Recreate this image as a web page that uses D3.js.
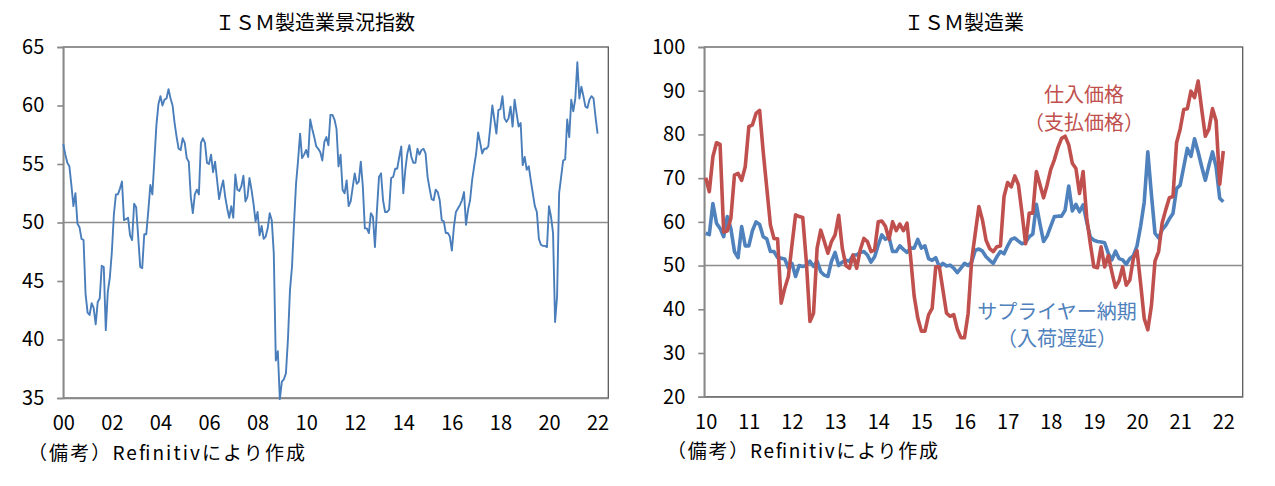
<!DOCTYPE html>
<html>
<head>
<meta charset="utf-8">
<script src="https://cdn.jsdelivr.net/npm/d3@7"></script>
<style>
  body { margin: 0; background: #fff; }
  svg { display: block; }
  text { font-family: "Noto Sans CJK JP", "Noto Sans", sans-serif; fill: #000; }
</style>
</head>
<body>
<div id="chart-area"></div>
<script>
// ISM manufacturing PMI, monthly Jan 2000 - Jan 2022
const ismPmi = [
  56.7, 55.8, 55.1, 54.8, 53.2, 51.4, 52.5, 49.9, 49.6, 48.6, 48.5, 43.9,
  42.3, 42.1, 43.1, 42.7, 41.3, 43.2, 43.5, 46.3, 46.2, 40.8, 44.1, 45.3,
  47.5, 50.7, 52.4, 52.4, 52.9, 53.5, 50.2, 50.3, 50.4, 48.9, 48.5, 51.6,
  51.3, 48.8, 46.2, 46.1, 49.0, 49.0, 51.0, 53.2, 52.4, 55.3, 58.3, 60.1,
  60.8, 60.0, 60.5, 60.6, 61.4, 60.6, 60.0, 58.5, 57.3, 56.3, 56.2, 57.2,
  56.8, 55.5, 55.2, 52.2, 50.8, 52.4, 52.8, 52.4, 56.8, 57.2, 56.8, 55.1,
  55.0, 55.8, 54.3, 55.2, 53.6, 52.0, 52.9, 53.6, 52.2, 51.2, 50.4, 51.4,
  50.4, 54.1, 52.8, 52.7, 53.1, 54.0, 51.8, 52.2, 53.8, 52.8, 51.6, 50.1,
  50.9, 48.9, 49.7, 48.6, 48.8, 49.5, 50.8, 50.2, 47.4, 38.2, 39.0, 34.9,
  36.4, 36.6, 37.1, 40.0, 44.2, 46.2, 49.9, 53.3, 55.3, 57.6, 55.5, 55.8,
  56.2, 55.6, 58.8, 58.0, 57.3, 56.5, 56.3, 56.0, 55.3, 56.9, 57.3, 56.6,
  59.2, 59.2, 58.8, 58.0, 54.8, 55.8, 52.8, 52.5, 53.6, 51.4, 51.8, 53.0,
  54.2, 53.3, 53.5, 55.2, 53.1, 49.5, 49.5, 49.1, 50.8, 50.5, 47.9, 51.1,
  53.9, 54.2, 51.9, 50.9, 50.9, 51.1, 53.8, 53.9, 54.6, 54.6, 55.6, 56.5,
  52.5, 54.5, 55.9, 56.6, 55.6, 55.1, 55.1, 56.3, 55.8, 56.2, 56.3, 55.9,
  53.9, 52.9, 52.0, 51.9, 52.8, 52.6, 51.9, 50.2, 50.1, 49.1, 49.1, 48.8,
  47.6, 49.6, 50.9, 51.2, 51.5, 51.9, 52.6, 49.8, 51.1, 51.9, 53.6, 54.8,
  55.9, 57.7, 56.8, 55.9, 56.3, 56.3, 56.5, 58.2, 60.0, 58.8, 57.6, 59.6,
  59.7, 60.8, 58.9, 58.6, 58.9, 59.9, 58.2, 60.5, 59.3, 58.2, 58.5, 54.9,
  55.6, 54.5, 54.8, 53.6, 52.5, 51.4, 50.9, 48.6, 48.1, 48.0, 48.0, 47.9,
  51.4, 50.5, 49.1, 41.5, 43.7, 52.5, 53.9, 55.3, 55.4, 58.8, 57.3, 60.5,
  59.5, 60.6, 63.7, 60.6, 61.6, 60.8, 59.9, 59.8, 60.5, 60.8, 60.6, 59.0,
  57.6
]

// prices paid and supplier deliveries, monthly Jan 2010 - Jan 2022
const pricesPaid = [
  70.1, 66.9, 74.9, 78.1, 77.7, 57.7, 57.9, 60.8, 70.7, 71.1, 69.5, 72.6,
  81.8, 82.2, 84.8, 85.5, 76.0, 67.7, 59.3, 56.2, 56.1, 41.4, 44.8, 47.5,
  54.7, 61.6, 61.2, 61.0, 50.9, 37.2, 39.1, 54.0, 58.1, 55.5, 52.8, 55.5,
  57.0, 61.5, 54.0, 50.0, 49.4, 52.4, 49.4, 53.6, 56.2, 55.5, 53.2, 53.6,
  60.0, 60.2, 59.0, 56.0, 60.0, 58.0, 59.5, 58.0, 59.7, 52.0, 43.0, 38.0,
  35.0, 35.0, 38.7, 40.2, 49.7, 49.7, 44.4, 39.1, 38.4, 38.8, 35.5, 33.5,
  33.5, 39.0, 51.3, 57.4, 63.5, 60.4, 55.8, 53.9, 53.2, 54.3, 54.5, 65.8,
  69.0, 68.0, 70.5, 68.5, 62.0, 55.0, 62.0, 62.0, 71.5, 68.5, 65.5, 68.5,
  72.0, 74.2, 77.0, 79.1, 79.6, 77.6, 73.4, 72.2, 66.5, 71.5, 61.0, 55.0,
  49.7, 49.5, 54.3, 49.7, 52.3, 48.5, 45.0, 46.5, 49.7, 45.5, 46.7, 51.7,
  53.4, 45.9, 37.9, 35.3, 40.8, 51.0, 53.2, 59.8, 62.8, 65.5, 65.8, 78.1,
  81.2, 85.7, 85.9, 89.9, 88.4, 92.2, 85.7, 79.6, 81.2, 85.9, 83.1, 68.6,
  76.2
]

const supplierDeliveries = [
  57.4, 57.1, 64.2, 59.7, 58.5, 56.6, 61.2, 58.5, 53.2, 51.8, 58.9, 54.5,
  54.5, 58.0, 60.0, 59.4, 56.6, 56.1, 53.2, 53.2, 51.8, 51.7, 51.5, 49.4,
  50.5, 47.5, 50.0, 49.8, 50.0, 51.0, 49.8, 51.0, 48.6, 47.8, 47.5, 51.0,
  53.0, 50.0, 50.8, 51.2, 51.0, 52.4, 52.4, 53.0, 53.2, 52.4, 50.8, 52.0,
  54.7, 57.0, 56.0, 56.5, 53.2, 53.2, 54.5, 53.7, 53.0, 54.0, 54.0, 56.0,
  54.0, 54.5, 51.6, 51.2, 51.8, 49.7, 50.5, 49.9, 50.1, 49.4, 48.4, 49.4,
  50.5, 50.0, 50.8, 53.5, 53.8, 53.3, 52.0, 51.2, 50.5, 52.0, 53.2, 52.7,
  54.5, 56.0, 56.3, 55.6, 55.0, 55.3, 56.6, 57.2, 64.0, 59.5, 55.5, 56.8,
  59.0, 61.2, 61.3, 61.3, 62.7, 68.2, 62.5, 64.0, 62.3, 63.9, 60.0, 56.5,
  55.8, 55.5, 55.4, 55.2, 52.8, 51.3, 53.3, 51.6, 51.3, 50.3, 51.6, 52.3,
  54.5, 59.0, 64.5, 76.0, 66.3, 57.4, 56.3, 58.2, 59.2, 60.7, 61.9, 67.6,
  68.4, 72.6, 76.8, 75.0, 79.0, 76.0, 72.6, 69.5, 72.9, 76.0, 72.6, 65.4,
  64.6
]

const yearLabelsLeft = ["00", "02", "04", "06", "08", "10", "12", "14", "16", "18", "20", "22"]
const yearLabelsRight = ["10", "11", "12", "13", "14", "15", "16", "17", "18", "19", "20", "21", "22"]
const pmiTicks = [35, 40, 45, 50, 55, 60, 65]
const rightTicks = [20, 30, 40, 50, 60, 70, 80, 90, 100]

const BLUE = "#4F81BD"
const RED = "#C0504D"

const svg = d3.select("#chart-area").append("svg")
  .attr("width", 1275)
  .attr("height", 486)

// plot boxes
const LP = {LEFT: 63.3, TOP: 47, WIDTH: 545, HEIGHT: 351}
const RP = {LEFT: 704.3, TOP: 47, WIDTH: 538.4, HEIGHT: 349.7}

function frame(g, box, yScale, ticks, xScale, xVals, xLabels) {
  // plot border
  g.append("rect")
    .attr("width", box.WIDTH)
    .attr("height", box.HEIGHT)
    .attr("fill", "none")
    .attr("stroke", "#595959")
    .attr("stroke-width", 1.3)

  // 50 line
  g.append("line")
    .attr("x1", 0).attr("x2", box.WIDTH)
    .attr("y1", yScale(50)).attr("y2", yScale(50))
    .attr("stroke", "#8c8c8c")
    .attr("stroke-width", 1.6)

  const yAxis = g.append("g")
    .call(d3.axisLeft(yScale).tickValues(ticks).tickSize(6).tickPadding(13))
  yAxis.selectAll("text").attr("font-size", "20px")

  const xAxis = g.append("g")
    .attr("transform", `translate(0, ${box.HEIGHT})`)
    .call(d3.axisBottom(xScale).tickValues(xVals)
      .tickFormat((d, i) => xLabels[i]).tickSize(0).tickPadding(18))
  xAxis.selectAll("text").attr("font-size", "20px")

  g.selectAll(".domain, .tick line")
    .attr("stroke", "#898989")
    .attr("stroke-width", 1.6)
}

// ---- left: ISM PMI ----
const gL = svg.append("g").attr("transform", `translate(${LP.LEFT}, ${LP.TOP})`)

const xL = d3.scaleLinear().domain([0, 269.3]).range([0, LP.WIDTH])
const yL = d3.scaleLinear().domain([35, 65]).range([LP.HEIGHT, 0])

frame(gL, LP, yL, pmiTicks, xL, yearLabelsLeft.map((d, i) => i * 24), yearLabelsLeft)

gL.append("path")
  .datum(ismPmi)
  .attr("fill", "none")
  .attr("stroke", "#4A7EBB")
  .attr("stroke-width", 1.9)
  .attr("stroke-linejoin", "round")
  .attr("d", d3.line().x((d, i) => xL(i)).y(d => yL(d)))

// ---- right: prices & deliveries ----
const gR = svg.append("g").attr("transform", `translate(${RP.LEFT}, ${RP.TOP})`)

const xR = d3.scaleLinear().domain([-0.39, 149.4]).range([0, RP.WIDTH])
const yR = d3.scaleLinear().domain([20, 100]).range([RP.HEIGHT, 0])

frame(gR, RP, yR, rightTicks, xR, yearLabelsRight.map((d, i) => i * 12), yearLabelsRight)

const lineR = d3.line().x((d, i) => xR(i)).y(d => yR(d))

gR.append("path")
  .datum(supplierDeliveries)
  .attr("fill", "none")
  .attr("stroke", BLUE)
  .attr("stroke-width", 3.6)
  .attr("stroke-linejoin", "round")
  .attr("d", lineR)

gR.append("path")
  .datum(pricesPaid)
  .attr("fill", "none")
  .attr("stroke", RED)
  .attr("stroke-width", 3.6)
  .attr("stroke-linejoin", "round")
  .attr("d", lineR)

// titles, notes, labels
svg.append("text").attr("x", 315).attr("y", 30).attr("text-anchor", "middle")
  .attr("font-size", "20px").text("ＩＳＭ製造業景況指数")
svg.append("text").attr("x", 964).attr("y", 30).attr("text-anchor", "middle")
  .attr("font-size", "20px").text("ＩＳＭ製造業")

svg.append("text").attr("x", 28).attr("y", 460).attr("font-size", "19px")
  .attr("textLength", 277).attr("lengthAdjust", "spacing")
  .text("（備考）Refinitivにより作成")
svg.append("text").attr("x", 667).attr("y", 458).attr("font-size", "19px")
  .attr("textLength", 271).attr("lengthAdjust", "spacing")
  .text("（備考）Refinitivにより作成")

svg.append("text").attr("x", 1084).attr("y", 102).attr("text-anchor", "middle")
  .attr("font-size", "20px").style("fill", RED).text("仕入価格")
svg.append("text").attr("x", 1084).attr("y", 130).attr("text-anchor", "middle")
  .attr("font-size", "20px").style("fill", RED).text("（支払価格）")
svg.append("text").attr("x", 1057).attr("y", 319).attr("text-anchor", "middle")
  .attr("font-size", "20px").style("fill", BLUE).text("サプライヤー納期")
svg.append("text").attr("x", 1057).attr("y", 346).attr("text-anchor", "middle")
  .attr("font-size", "20px").style("fill", BLUE).text("（入荷遅延）")
</script>
</body>
</html>
